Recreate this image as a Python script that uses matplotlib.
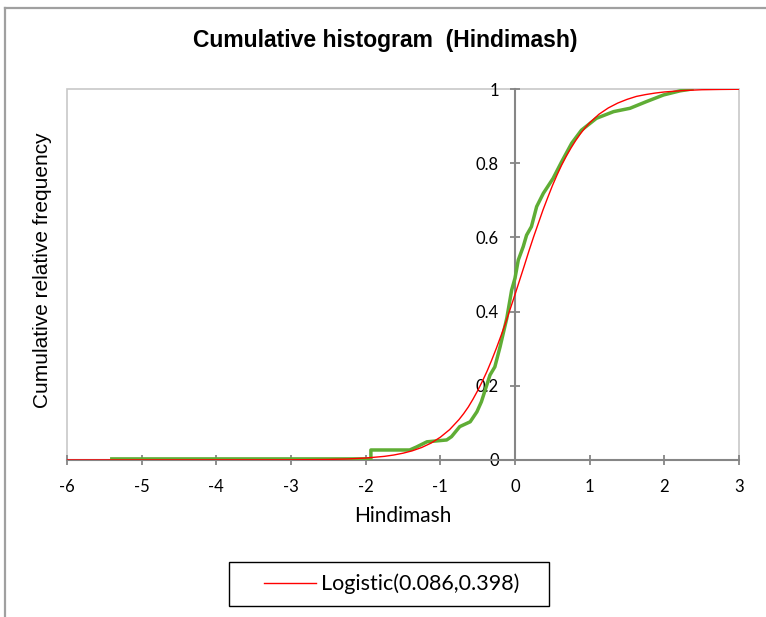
import matplotlib
matplotlib.use("Agg")
import matplotlib.pyplot as plt
from matplotlib.lines import Line2D
from matplotlib.patches import Rectangle

emp_x = [-5.4, -1.93, -1.93, -1.41, -1.32, -1.18, -0.915, -0.85, -0.74, -0.60,
         -0.51, -0.45, -0.335, -0.27, -0.20, -0.11, -0.045, 0.0, 0.044, 0.11,
         0.155, 0.22, 0.29, 0.38, 0.51, 0.625, 0.76, 0.89, 1.09, 1.32,
         1.54, 1.76, 1.99, 2.21, 2.37]
emp_y = [0.003, 0.003, 0.027, 0.027, 0.035, 0.049, 0.054, 0.063, 0.090, 0.103,
         0.130, 0.157, 0.229, 0.251, 0.305, 0.382, 0.458, 0.490, 0.539, 0.575,
         0.606, 0.629, 0.683, 0.719, 0.759, 0.804, 0.854, 0.889, 0.921, 0.939,
         0.948, 0.966, 0.984, 0.995, 1.0]

# Fitted logistic curve (red)
fit_x = [-6, -3, -2.5, -2.25, -2, -1.75, -1.625, -1.5, -1.375, -1.25, -1.125, -1,
         -0.875, -0.75, -0.6875, -0.625, -0.5625, -0.5, -0.4375, -0.375, -0.3125,
         -0.25, -0.1875, -0.125, -0.0625, 0, 0.0625, 0.125, 0.1875, 0.25, 0.3125,
         0.375, 0.4375, 0.5, 0.5625, 0.625, 0.6875, 0.75, 0.8125, 0.875, 0.9375,
         1, 1.125, 1.25, 1.375, 1.5, 1.625, 1.75, 1.875, 2, 2.25, 2.5, 2.75, 3]
fit_y = [0.0, 0.0004, 0.0015, 0.0028, 0.0053, 0.0098, 0.0134, 0.0183, 0.0248,
         0.0337, 0.0455, 0.0614, 0.082, 0.109, 0.125, 0.143, 0.164, 0.187, 0.212,
         0.239, 0.269, 0.301, 0.335, 0.370, 0.408, 0.446, 0.485, 0.524, 0.564,
         0.602, 0.638, 0.674, 0.707, 0.739, 0.768, 0.795, 0.819, 0.841, 0.861,
         0.879, 0.895, 0.909, 0.932, 0.949, 0.962, 0.972, 0.980, 0.985, 0.989,
         0.992, 0.9957, 0.998, 0.9988, 0.9993]

x_ticks = [-6, -5, -4, -3, -2, -1, 0, 1, 2, 3]
y_ticks = [0, 0.2, 0.4, 0.6, 0.8, 1]
y_labels = ["0", "0.2", "0.4", "0.6", "0.8", "1"]

title = "Cumulative histogram  (Hindimash)"
x_label = "Hindimash"
y_label = "Cumulative relative frequency"
legend_label = "Logistic(0.086,0.398)"

W, H = 766, 617
fig = plt.figure(figsize=(W / 100, H / 100), dpi=100)
fig.patch.set_facecolor("white")

# outer chart frame (only top and left visible)
fig.add_artist(Line2D([5 / W, 1], [1 - 7.5 / H, 1 - 7.5 / H], color="#a0a0a0", lw=1.6,
                      transform=fig.transFigure))
fig.add_artist(Line2D([5 / W, 5 / W], [0, 1 - 7.5 / H], color="#a0a0a0", lw=1.6,
                      transform=fig.transFigure))

left, right, top, bottom = 67, 739, 89, 460
ax = fig.add_axes([left / W, 1 - bottom / H, (right - left) / W, (bottom - top) / H])

for s in ["top", "right"]:
    ax.spines[s].set_visible(False)
# plot area box
ax.add_patch(Rectangle((0, 0), 1, 1, transform=ax.transAxes, fill=False,
                       edgecolor="#c8c8c8", lw=1.2, zorder=0, clip_on=False))
ax.spines["left"].set_position(("data", 0))
ax.spines["left"].set_color("#868686")
ax.spines["left"].set_linewidth(1.5)
ax.spines["bottom"].set_color("#868686")
ax.spines["bottom"].set_linewidth(1.5)

ax.plot(emp_x, emp_y, color="#5fad35", lw=2.5, solid_joinstyle="round", zorder=3)
ax.plot(fit_x, fit_y, color="#ff0000", lw=1.0, zorder=4)

ax.set_xlim(-6, 3)
ax.set_ylim(0, 1)
ax.set_xticks(x_ticks)
ax.set_xticklabels([str(t) for t in x_ticks])
ax.set_yticks(y_ticks)
ax.set_yticklabels(y_labels)
ax.tick_params(axis="both", direction="inout", length=7, width=1.3, color="#868686",
               labelsize=12, labelcolor="black")
ax.tick_params(axis="x", pad=10)
ax.tick_params(axis="y", pad=8)
for lab in ax.get_xticklabels() + ax.get_yticklabels():
    lab.set_family(["Lato", "DejaVu Sans"])

fig.text(385 / W, 1 - 41 / H, title, ha="center", va="center",
         fontsize=16.5, fontweight="bold", family=["Liberation Sans"])
fig.text(403 / W, 1 - 516 / H, x_label, ha="center", va="center",
         fontsize=15, family=["Lato"])
fig.text(43 / W, 1 - 270 / H, y_label, ha="center", va="center", rotation=90,
         fontsize=15, family=["Liberation Sans"])

# legend
fig.add_artist(Rectangle((229 / W, 1 - 606 / H), 320 / W, 44 / H, transform=fig.transFigure,
                         fill=False, edgecolor="black", lw=1.0))
handle = Line2D([], [], color="#ff0000", lw=1.0)
leg = fig.legend([handle], [legend_label], loc="center",
                 bbox_to_anchor=(392 / W, 1 - 584 / H),
                 frameon=False, prop={"family": "Lato", "size": 15.5},
                 handlelength=2.4, handletextpad=0.25, borderpad=0, borderaxespad=0)

fig.savefig("out.png", dpi=100)
